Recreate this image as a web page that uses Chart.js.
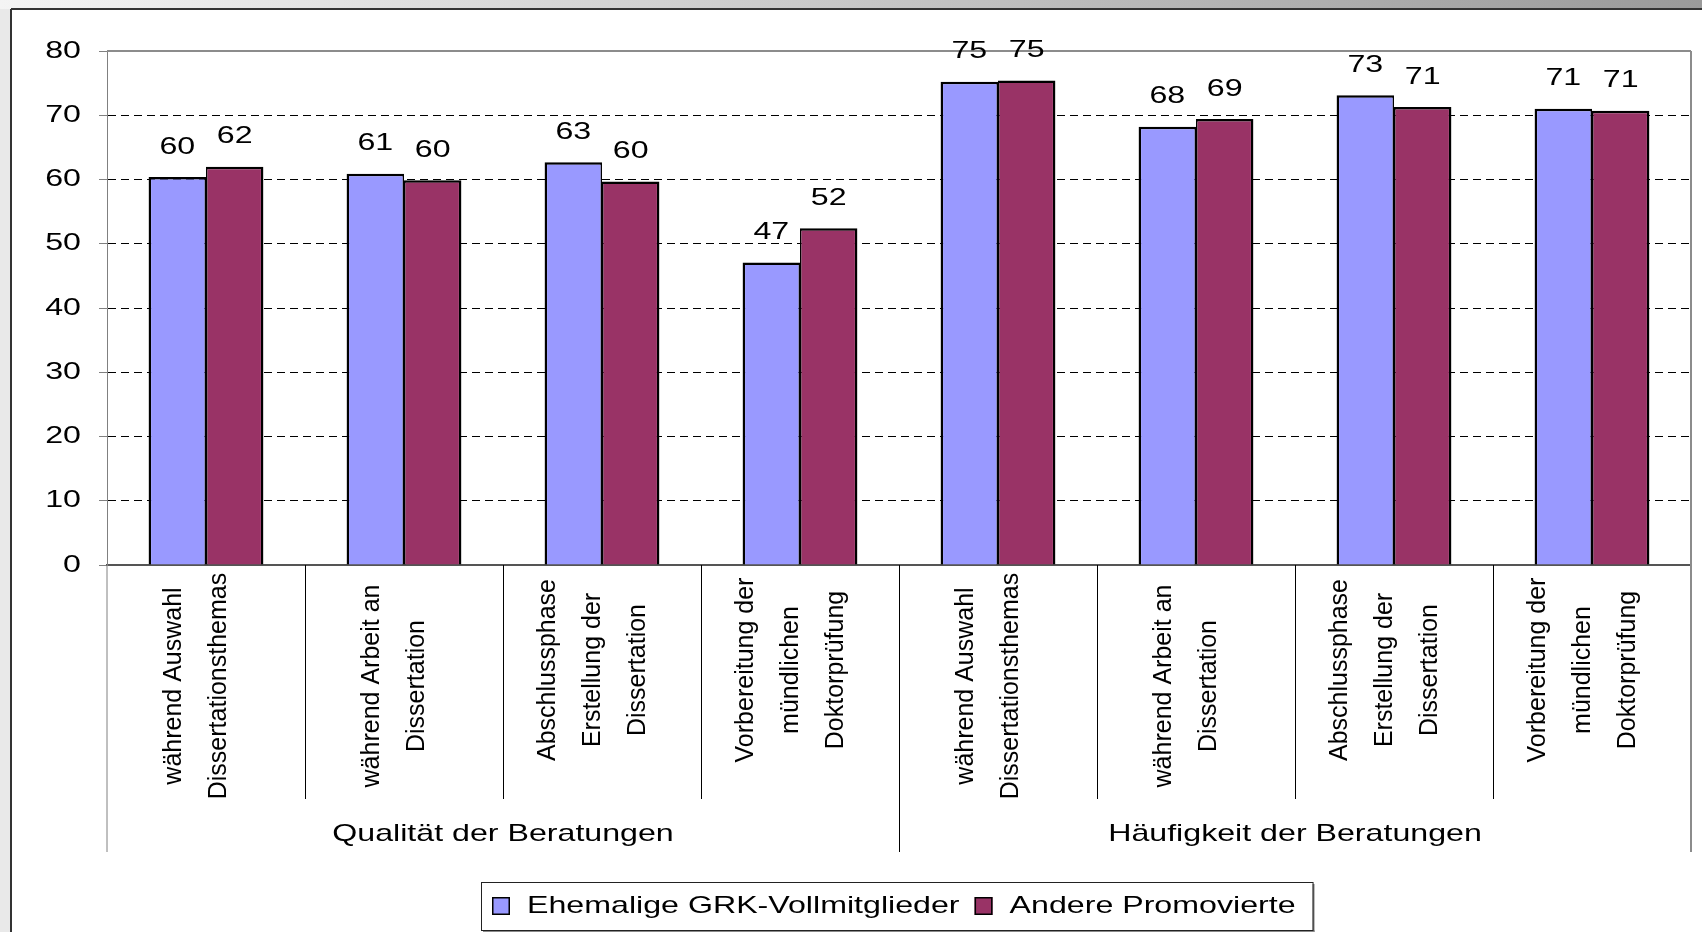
<!DOCTYPE html>
<html>
<head>
<meta charset="utf-8">
<script src="https://cdn.jsdelivr.net/npm/chart.js@4.4.0/dist/chart.umd.min.js"></script>
<style>
  html, body { margin: 0; padding: 0; background: #fff; }
  #wrap { position: relative; width: 1702px; height: 932px; }
</style>
</head>
<body>
<div id="wrap"><canvas id="chart"></canvas></div>
<script>
// ---------- data ----------
// category labels, already split into the lines used in the rotated text
const categoryLines = [
  ['während Auswahl', 'Dissertationsthemas'],
  ['während Arbeit an', 'Dissertation'],
  ['Abschlussphase', 'Erstellung der', 'Dissertation'],
  ['Vorbereitung der', 'mündlichen', 'Doktorprüfung'],
  ['während Auswahl', 'Dissertationsthemas'],
  ['während Arbeit an', 'Dissertation'],
  ['Abschlussphase', 'Erstellung der', 'Dissertation'],
  ['Vorbereitung der', 'mündlichen', 'Doktorprüfung'],
];
const groupLabels = ['Qualität der Beratungen', 'Häufigkeit der Beratungen'];
const GROUP_SIZE = 4;

const seriesNames = ['Ehemalige GRK-Vollmitglieder', 'Andere Promovierte'];
const grkValues   = [60.4, 60.9, 62.7, 47.1, 75.2, 68.2, 73.1, 71.0];
const otherValues = [62.0, 59.9, 59.7, 52.4, 75.4, 69.4, 71.3, 70.7];

const yTicks = [0, 10, 20, 30, 40, 50, 60, 70, 80];

// ---------- styles ----------
const FONT = '"Liberation Sans", Arial, sans-serif';
const SX = 1.34;            // horizontal text in the source is drawn wide
const BLUE = '#9999FF';
const WINE = '#993366';

// horizontal text, stretched in x around its anchor
function wideText(ctx, text, x, y, align) {
  ctx.save();
  ctx.translate(x, y);
  ctx.scale(SX, 1);
  ctx.textAlign = align;
  ctx.fillText(text, 0, 0);
  ctx.restore();
}

function line(ctx, x1, y1, x2, y2, color, w) {
  ctx.save();
  ctx.strokeStyle = color;
  ctx.lineWidth = w;
  ctx.beginPath();
  ctx.moveTo(x1, y1);
  ctx.lineTo(x2, y2);
  ctx.stroke();
  ctx.restore();
}

// outer sheet: grey strips and the dark frame
const framePlugin = {
  id: 'frame',
  beforeDraw(chart) {
    const { ctx, width, height } = chart;
    ctx.save();
    ctx.fillStyle = '#fff';
    ctx.fillRect(0, 0, width, height);
    const g = ctx.createLinearGradient(0, 0, width, 0);
    g.addColorStop(0, '#f4f4f4');
    g.addColorStop(1, '#9a9a9a');
    ctx.fillStyle = g;
    ctx.fillRect(0, 0, width, 9);
    ctx.fillStyle = '#e9e9e9';
    ctx.fillRect(0, 9, 11, height - 9);
    ctx.restore();
    line(ctx, 11, 9, width, 9, '#333', 2);
    line(ctx, 11, 9, 11, height, '#333', 2);
  },
};

const textPlugin = {
  id: 'texts',
  afterDraw(chart) {
    const { ctx, chartArea: area } = chart;
    const xs = chart.scales.x;
    const ys = chart.scales.y;

    // plot border top/right
    line(ctx, area.left, area.top, area.right, area.top, '#8c8c8c', 2);
    line(ctx, area.right, area.top, area.right, xs.bottom, '#8c8c8c', 2);
    line(ctx, area.left, area.bottom, area.left, xs.bottom, '#808080', 1);

    ctx.save();
    ctx.fillStyle = '#000';
    ctx.font = `24px ${FONT}`;
    ctx.textBaseline = 'middle';

    // y tick labels
    ys.ticks.forEach(t => {
      wideText(ctx, String(t.value), ys.right - 26, ys.getPixelForValue(t.value), 'right');
    });

    // value labels above the bars
    chart.data.datasets.forEach((ds, d) => {
      chart.getDatasetMeta(d).data.forEach((bar, i) => {
        wideText(ctx, String(Math.round(ds.data[i])), bar.x, bar.y - 30, 'center');
      });
    });

    // category boundaries
    const n = categoryLines.length;
    const bounds = [area.left];
    for (let k = 1; k < n; k++) {
      bounds.push((xs.getPixelForValue(k - 1) + xs.getPixelForValue(k)) / 2);
    }
    bounds.push(area.right);
    const labelRowBottom = xs.top + 234;
    for (let k = 1; k < n; k++) {
      const long = k % GROUP_SIZE === 0;
      line(ctx, Math.round(bounds[k]) + 0.5, xs.top, Math.round(bounds[k]) + 0.5,
           long ? xs.bottom : labelRowBottom, '#000', 1);
    }

    // rotated category labels
    ctx.font = `25px ${FONT}`;
    categoryLines.forEach((lines, i) => {
      const cx = xs.getPixelForValue(i) - 9;
      const cy = xs.top + 121 - (lines.length - 2) * 16;
      lines.forEach((txt, j) => {
        const lx = cx + (j - (lines.length - 1) / 2) * 45;
        ctx.save();
        ctx.translate(lx, cy);
        ctx.rotate(-Math.PI / 2);
        ctx.textAlign = 'center';
        ctx.fillText(txt, 0, 0);
        ctx.restore();
      });
    });

    // group labels
    ctx.font = `24px ${FONT}`;
    groupLabels.forEach((g, gi) => {
      const l = bounds[gi * GROUP_SIZE];
      const r = bounds[(gi + 1) * GROUP_SIZE];
      wideText(ctx, g, (l + r) / 2, xs.top + 269, 'center');
    });

    // legend
    const widths = seriesNames.map(s => ctx.measureText(s).width * SX);
    const sq = 18, padL = 11, gap = 17, itemGap = 15, padR = 17;
    const boxW = padL + padR + seriesNames.length * (sq + gap) + itemGap * (seriesNames.length - 1)
      + widths.reduce((a, b) => a + b, 0);
    const boxH = 48, boxTop = 882;
    const boxLeft = Math.round((area.left + area.right) / 2 - boxW / 2) - 2;
    ctx.fillStyle = '#fff';
    ctx.fillRect(boxLeft, boxTop, boxW, boxH);
    line(ctx, boxLeft + 2, boxTop + boxH + 1, boxLeft + boxW + 2, boxTop + boxH + 1, '#8a8a8a', 2);
    line(ctx, boxLeft + boxW + 1, boxTop + 2, boxLeft + boxW + 1, boxTop + boxH + 2, '#8a8a8a', 2);
    ctx.strokeStyle = '#222';
    ctx.lineWidth = 1;
    ctx.strokeRect(boxLeft + 0.5, boxTop + 0.5, boxW, boxH);
    let x = boxLeft + padL;
    const cy = boxTop + boxH / 2;
    chart.data.datasets.forEach((ds, d) => {
      ctx.fillStyle = ds.backgroundColor;
      ctx.fillRect(x, cy - sq / 2, sq, sq);
      ctx.strokeStyle = '#000';
      ctx.lineWidth = 1.5;
      ctx.strokeRect(x + 0.75, cy - sq / 2 + 0.75, sq - 1.5, sq - 1.5);
      x += sq + gap;
      ctx.fillStyle = '#000';
      wideText(ctx, seriesNames[d], x, cy, 'left');
      x += widths[d] + itemGap;
    });
    ctx.restore();
  },
};

new Chart(document.getElementById('chart'), {
  type: 'bar',
  data: {
    labels: categoryLines.map(l => l.join(' ')),
    datasets: [
      {
        label: seriesNames[0],
        data: grkValues,
        backgroundColor: BLUE,
        borderColor: '#000',
        borderWidth: { left: 2.5, top: 2.5, right: 1.5, bottom: 0 },
        borderSkipped: false,
      },
      {
        label: seriesNames[1],
        data: otherValues,
        backgroundColor: WINE,
        borderColor: '#000',
        borderWidth: { left: 1.5, top: 2.5, right: 2.5, bottom: 0 },
        borderSkipped: false,
      },
    ],
  },
  options: {
    responsive: true,
    maintainAspectRatio: false,
    animation: false,
    layout: { padding: { left: 0, top: 51, right: 11, bottom: 80 } },
    datasets: { bar: { categoryPercentage: 0.58, barPercentage: 1 } },
    plugins: {
      legend: { display: false },
      tooltip: { enabled: false },
    },
    scales: {
      x: {
        ticks: { display: false },
        grid: { display: false },
        border: { color: '#555', width: 2 },
        afterFit: (s) => { s.height = 287; },
      },
      y: {
        min: 0,
        max: 80,
        afterBuildTicks: (s) => { s.ticks = yTicks.map(v => ({ value: v })); },
        ticks: { display: false },
        grid: {
          color: (c) => (c.tick && (c.tick.value === 0 || c.tick.value === 80)) ? 'rgba(0,0,0,0)' : '#000',
          lineWidth: 1,
          tickLength: 8,
          tickColor: '#808080',
          tickBorderDash: [],
        },
        border: { color: '#808080', width: 1, dash: [8, 5] },
        afterFit: (s) => { s.width = 107; },
      },
    },
  },
  plugins: [framePlugin, textPlugin],
});
</script>
</body>
</html>
